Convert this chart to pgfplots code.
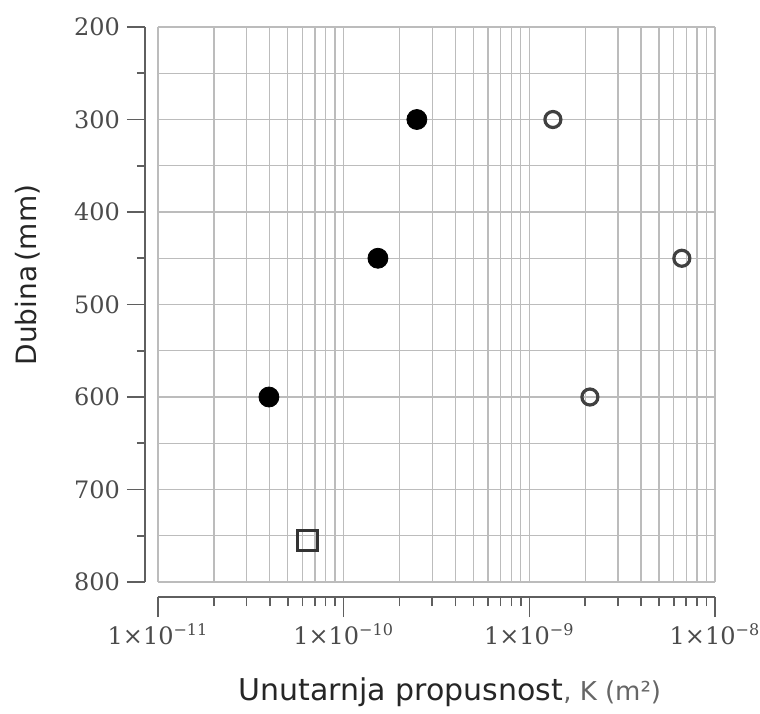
\documentclass[border=0pt]{standalone}
\usepackage{fontspec}
\usepackage{pgfplots}
\pgfplotsset{compat=1.18}
\newfontfamily\labelfont{DejaVu Sans}
\newfontfamily\tickfont{DejaVu Serif}

\definecolor{gridgray}{RGB}{188,188,188}
\definecolor{axisgray}{RGB}{95,95,95}
\definecolor{ticktext}{RGB}{75,75,75}

% 1 px of the reference = 0.5pt here
\pgfplotsset{
  every axis/.append style={
    scale only axis, width=278.5pt, height=277.5pt,
    tick label style={font=\tickfont\fontsize{12}{14}\selectfont, text=ticktext},
  },
}

\begin{document}
\begin{tikzpicture}
\useasboundingbox (-79pt,-65.5pt) rectangle (301pt,291pt);
% grid + data
\begin{axis}[at={(0,0)}, anchor=south west,
  xmode=log, xmin=1e-11, xmax=1e-8,
  ymin=200, ymax=800, y dir=reverse,
  axis line style={draw=none},
  major tick length=0pt, minor tick length=0pt,
  xtick={1e-11,1e-10,1e-9,1e-8},
  minor xtick={2e-11,3e-11,4e-11,5e-11,6e-11,7e-11,8e-11,9e-11,
               2e-10,3e-10,4e-10,5e-10,6e-10,7e-10,8e-10,9e-10,
               2e-9,3e-9,4e-9,5e-9,6e-9,7e-9,8e-9,9e-9},
  ytick={200,300,...,800}, minor ytick={250,350,...,750},
  xticklabels={}, yticklabels={},
  grid=both,
  major grid style={gridgray, line width=0.65pt},
  minor grid style={gridgray, line width=0.65pt},
  clip=false,
]
% filled circles
\addplot[only marks, mark=*, mark size=5pt, mark options={fill=black, draw=black}]
  coordinates {(2.48e-10,300) (1.53e-10,450) (3.96e-11,600)};
% open circles
\addplot[only marks, mark=o, mark size=4pt, mark options={draw=black!75, fill=white, line width=1.6pt}]
  coordinates {(1.34e-9,300) (6.63e-9,450) (2.12e-9,600)};
% square
\addplot[only marks, mark=square, mark size=5pt, mark options={draw=black!80, fill=white, line width=1.5pt}]
  coordinates {(6.42e-11,755)};
\end{axis}

% detached y axis
\begin{axis}[at={(-6.5pt,0)}, anchor=south west,
  xmin=0, xmax=1, ymin=200, ymax=800, y dir=reverse,
  axis x line=none, axis y line*=left,
  y axis line style={axisgray, line width=0.8pt},
  ytick={200,300,...,800}, minor ytick={250,350,...,750},
  /pgf/number format/assume math mode=true,
  tick align=outside,
  major tick length=9pt, minor tick length=4pt,
  every tick/.style={axisgray, line width=0.8pt},
  ylabel={\labelfont\fontsize{14}{16}\selectfont Dubina\,(mm)},
  ylabel style={at={(axis description cs:-0.21,0.553)}, anchor=center, text=black!85},
]
\end{axis}

% detached x axis
\begin{axis}[at={(0,-7.5pt)}, anchor=south west,
  xmode=log, xmin=1e-11, xmax=1e-8, ymin=0, ymax=1,
  axis y line=none, axis x line*=bottom,
  x axis line style={axisgray, line width=0.8pt},
  xtick={1e-11,1e-10,1e-9,1e-8},
  xticklabels={1×10\textsuperscript{−11},1×10\textsuperscript{−10},1×10\textsuperscript{−9},1×10\textsuperscript{−8}},
  minor xtick={2e-11,3e-11,4e-11,5e-11,6e-11,7e-11,8e-11,9e-11,
               2e-10,3e-10,4e-10,5e-10,6e-10,7e-10,8e-10,9e-10,
               2e-9,3e-9,4e-9,5e-9,6e-9,7e-9,8e-9,9e-9},
  tick align=outside,
  major tick length=10pt, minor tick length=4.5pt,
  every tick/.style={axisgray, line width=0.8pt},
  xlabel={\labelfont\fontsize{15}{17}\selectfont Unutarnja propusnost{\color{black!60}\fontsize{13}{15}\selectfont, K (m²)}},
  xlabel style={at={(axis description cs:0.524,-0.1856)}, anchor=base, text=black!85},
]
\end{axis}
\end{tikzpicture}
\end{document}
